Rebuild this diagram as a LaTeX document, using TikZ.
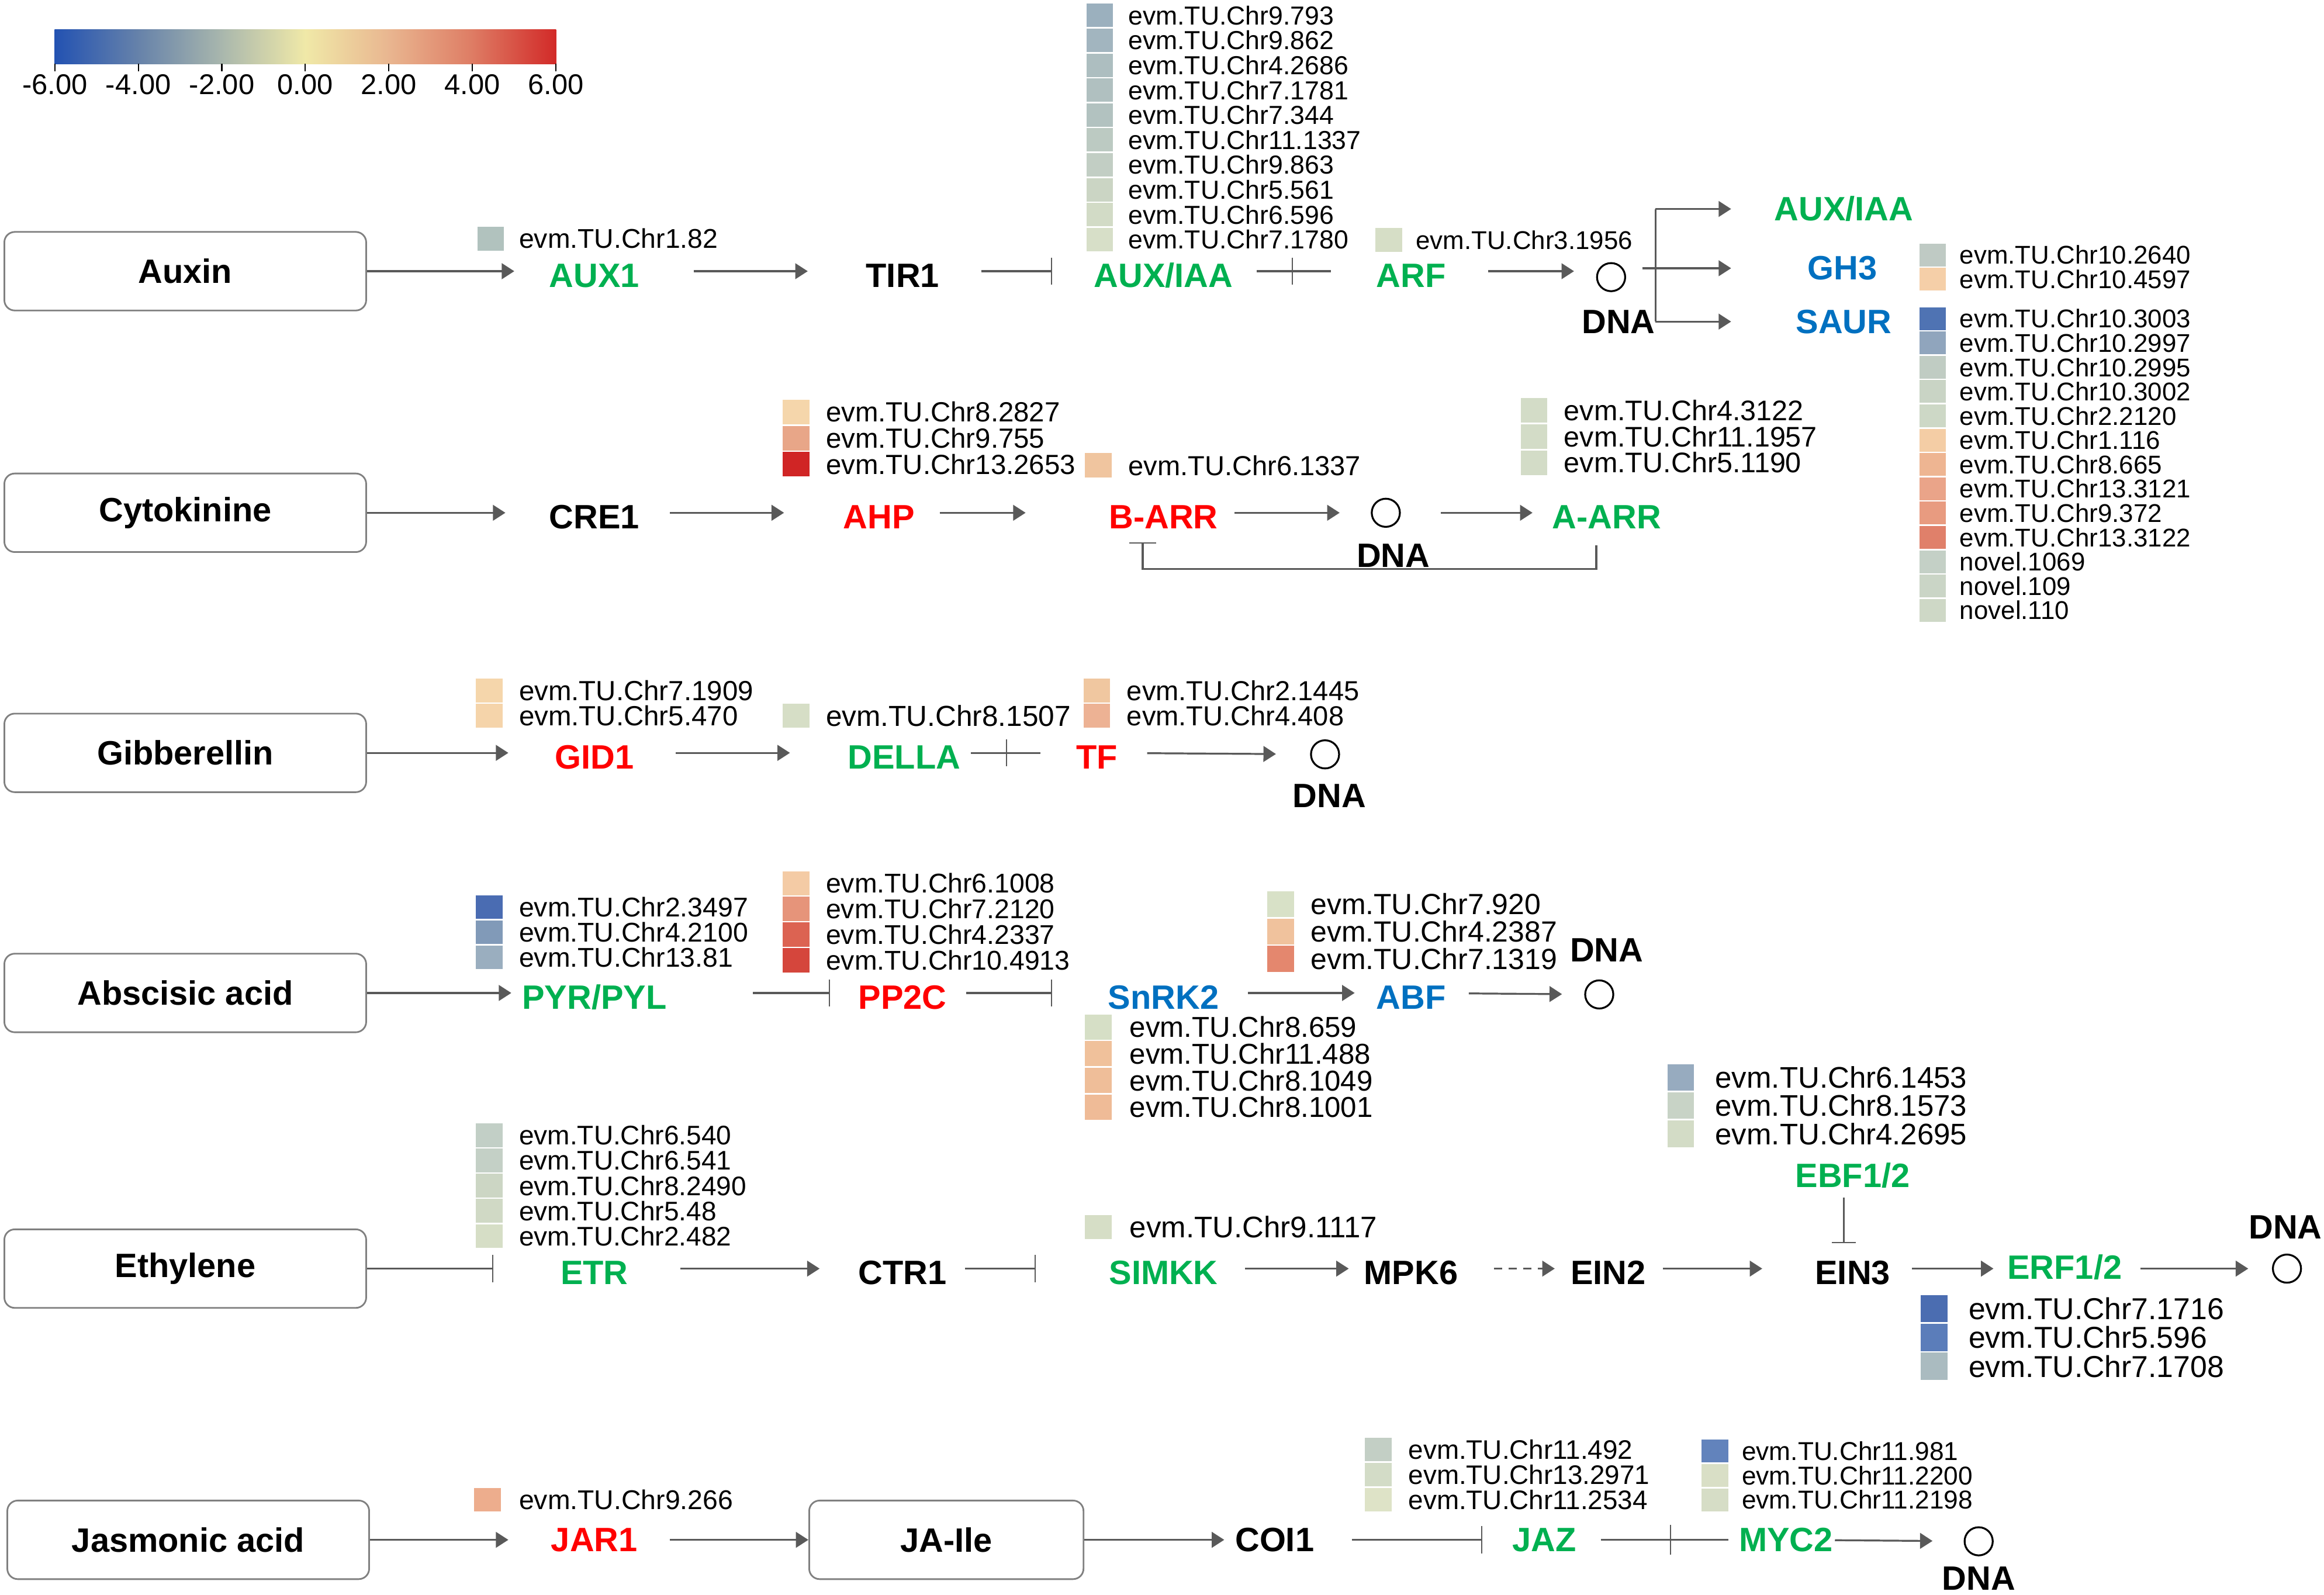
\documentclass[tikz,border=0pt]{standalone}
\usepackage{fontspec}
\setmainfont{Liberation Sans}
\usetikzlibrary{arrows.meta,calc}
\definecolor{cGreen}{HTML}{00B050}
\definecolor{cRed}{HTML}{FF0000}
\definecolor{cBlue}{HTML}{0070C0}
\definecolor{cLine}{HTML}{595959}
\definecolor{cBox}{HTML}{808080}
\definecolor{cb0}{HTML}{2352B2}
\definecolor{cb1}{HTML}{6682AA}
\definecolor{cb2}{HTML}{A9B7AD}
\definecolor{cb3}{HTML}{F0E9A8}
\definecolor{cb4}{HTML}{E9B690}
\definecolor{cb5}{HTML}{DE7C64}
\definecolor{cb6}{HTML}{D22A28}
% heat-map column: prefix, x of squares, x of texts, y of first centre, pitch, font size, list colour/text
\newcommand\hmcol[7]{%
  \foreach \hmC/\hmT [count=\i from 0] in {#7}{%
    \edef\hmdef{\noexpand\definecolor{hmtmp}{HTML}{\hmC}}\hmdef
    \fill[hmtmp] (#2, #4+\i*#5-#5/2+0.5) rectangle ++(18, #5-1);
    \node[gtext, font=\fontsize{#6}{#6}\selectfont] (#1\i) at (#3, #4+\i*#5) {\hmT};
  }%
}
\begin{document}
\begin{tikzpicture}[x=0.025cm, y=-0.025cm,
  gtext/.style={inner sep=0pt, anchor=west},
  lab/.style={font=\fontsize{16.2}{19}\selectfont\bfseries, inner sep=0pt},
  low/.style={text height=15.2pt, text depth=0pt},
  grn/.style={lab, text=cGreen},
  rd/.style={lab, text=cRed},
  blu/.style={lab, text=cBlue},
  blk/.style={lab, text=black},
  pbox/.style={draw=cBox, line width=0.8pt, rounded corners=5pt, minimum width=173.6pt, minimum height=37.7pt, font=\fontsize{16.2}{19}\selectfont\bfseries, inner sep=0pt},
  dna/.style={circle, draw=black, line width=0.9pt, minimum size=13.5pt, inner sep=0pt},
  conn/.style={draw=cLine, line width=0.9pt},
  arr/.style={conn, -{Triangle[length=6pt,width=7.5pt]}},
  darr/.style={arr, dash pattern=on 4pt off 3pt},
  inh/.style={conn, -{Bar[width=13pt,line width=0.6pt]}},
  tickm/.style={draw=cLine, line width=0.6pt},
  sh/.style 2 args={shorten <=#1*0.7113pt, shorten >=#2*0.7113pt},
]
\useasboundingbox (0,0) rectangle (1568,1076);

% ---------- colour bar ----------
\foreach \k [evaluate=\k as \kn using int(\k+1)] in {0,...,5}{
  \shade[left color=cb\k, right color=cb\kn] (37+\k*56.333-0.2,20) rectangle (37+\k*56.333+56.533,43);
}
\foreach \k/\lbl in {0/-6.00,1/-4.00,2/-2.00,3/0.00,4/2.00,5/4.00,6/6.00}{
  \draw[black, line width=0.6pt] (37+\k*56.333,43) -- (37+\k*56.333,48);
  \node[font=\fontsize{13.7}{16}\selectfont, inner sep=0pt] (cbl\k) at (37+\k*56.333,57) {\lbl};
}

% ---------- pathway boxes ----------
\node[pbox] (auxin) at (125,183) {Auxin};
\node[pbox] (cyto) at (125,346) {Cytokinine};
\node[pbox] (gib) at (125,508) {Gibberellin};
\node[pbox] (aba) at (125,670) {Abscisic acid};
\node[pbox] (eth) at (125,856) {Ethylene};
\node[pbox] (ja) at (127,1039) {Jasmonic acid};
\node[pbox, minimum width=131.6pt] (jaile) at (638.5,1039) {JA-Ile};

% ---------- Auxin ----------
\node[grn, low] (aux1) at (401,183) {AUX1};
\node[blk, low] (tir1) at (609,183) {TIR1};
\node[grn, low] (iaa1) at (785,183) {AUX/IAA};
\node[grn, low] (arf) at (952,183) {ARF};
\node[dna] (dna1) at (1087,187) {};
\node[blk] (dnal1) at (1092,217) {DNA};
\node[grn] (iaa2) at (1244,141) {AUX/IAA};
\node[blu] (gh3) at (1243,181) {GH3};
\node[blu] (saur) at (1244,217) {SAUR};
\draw[arr, sh={0}{54}] (auxin) -- (aux1.center);
\draw[arr, sh={67}{64}] (aux1.center) -- (tir1.center);
\draw[inh, sh={53}{75}] (tir1.center) -- (iaa1.center);
\draw[conn, sh={63}{54}] (iaa1.center) -- (arf.center);
\draw[tickm] ($(iaa1.center)+(87,-9)$) -- ($(iaa1.center)+(87,9)$);
\draw[arr, sh={52}{25}] (arf.center) -- (arf.center -| dna1.center);
\draw[arr, sh={21}{75}] (dna1.center |- gh3.center) -- (gh3.center);
\coordinate (brT) at (1117,141);
\coordinate (brB) at (1117,217);
\draw[conn] (brT) -- (brB);
\draw[arr, sh={0}{76}] (brT) -- (iaa2.center);
\draw[arr, sh={0}{76}] (brB) -- (saur.center);
\hmcol{haux}{322}{350}{161}{17}{13.0}{B1C2BE/evm.TU.Chr1.82}
\hmcol{hiaa}{733}{761}{10.4}{16.8}{12.5}{9BB0BE/evm.TU.Chr9.793, A2B5BF/evm.TU.Chr9.862, ADBEC0/evm.TU.Chr4.2686, B0C0C0/evm.TU.Chr7.1781, B2C2C0/evm.TU.Chr7.344, BCCAC2/evm.TU.Chr11.1337, C2CEC4/evm.TU.Chr9.863, CBD5C4/evm.TU.Chr5.561, D2DBC6/evm.TU.Chr6.596, D7DFC8/evm.TU.Chr7.1780}
\hmcol{harf}{928}{955}{162}{17}{12.3}{D6DEC6/evm.TU.Chr3.1956}
\hmcol{hgh}{1295}{1322}{172}{16.3}{12.3}{BFCAC4/evm.TU.Chr10.2640, F5CFA8/evm.TU.Chr10.4597}
\hmcol{hsaur}{1295}{1322}{215}{16.4}{12.3}{4F73B3/evm.TU.Chr10.3003, 90A5BD/evm.TU.Chr10.2997, C0CCC3/evm.TU.Chr10.2995, C9D4C5/evm.TU.Chr10.3002, CDD8C6/evm.TU.Chr2.2120, F4CDA5/evm.TU.Chr1.116, EEB592/evm.TU.Chr8.665, EAA489/evm.TU.Chr13.3121, E89B80/evm.TU.Chr9.372, E0806A/evm.TU.Chr13.3122, C4D0C6/novel.1069, CAD5C6/novel.109, CED8C6/novel.110}

% ---------- Cytokinine ----------
\node[blk, low] (cre1) at (401,346) {CRE1};
\node[rd, low] (ahp) at (593,346) {AHP};
\node[rd, low] (barr) at (785,346) {B-ARR};
\node[dna] (dna2) at (935,346) {};
\node[blk] (dnal2) at (940,375) {DNA};
\node[grn, low] (aarr) at (1084,346) {A-ARR};
\draw[arr, sh={0}{60}] (cyto) -- (cre1.center);
\draw[arr, sh={51}{64}] (cre1.center) -- (ahp.center);
\draw[arr, sh={41}{93}] (ahp.center) -- (barr.center);
\draw[arr, sh={48}{21}] (barr.center) -- (dna2);
\draw[arr, sh={27}{50}] (dna2) -- (aarr.center);
\draw[conn, -{Bar[width=12.8pt,line width=0.6pt]}] ($(aarr.center)+(-7,22)$) -- ($(aarr.center)+(-7,38)$) -| ($(barr.center)+(-14,20)$);
\hmcol{hahp}{528}{557}{278}{17.6}{13.3}{F5D6AB/evm.TU.Chr8.2827, E8A688/evm.TU.Chr9.755, D02525/evm.TU.Chr13.2653}
\hmcol{hbarr}{732}{761}{314}{17.6}{13.2}{F0C59F/evm.TU.Chr6.1337}
\hmcol{haarr}{1026}{1055}{277}{17.6}{13.6}{D3DCC7/evm.TU.Chr4.3122, D3DCC7/evm.TU.Chr11.1957, D3DCC7/evm.TU.Chr5.1190}

% ---------- Gibberellin ----------
\node[rd, low] (gid1) at (401,508) {GID1};
\node[grn, low] (della) at (610,508) {DELLA};
\node[rd, low] (tf) at (740,508) {TF};
\node[dna] (dna3) at (894,509) {};
\node[blk] (dnal3) at (897,537) {DNA};
\draw[arr, sh={0}{58}] (gib) -- (gid1.center);
\draw[arr, sh={55}{77}] (gid1.center) -- (della.center);
\draw[conn, sh={45}{38}] (della.center) -- (tf.center);
\draw[tickm] ($(della.center)+(69,-9)$) -- ($(della.center)+(69,9)$);
\draw[arr, sh={34}{23}] (tf.center) -- (dna3);
\hmcol{hgid}{321}{350}{466}{17}{13.3}{F5D6AB/evm.TU.Chr7.1909, F5D4AA/evm.TU.Chr5.470}
\hmcol{hdella}{528}{557}{483}{17}{13.9}{D6DEC6/evm.TU.Chr8.1507}
\hmcol{htf}{731}{760}{466}{17}{13.2}{F0C7A0/evm.TU.Chr2.1445, EDB294/evm.TU.Chr4.408}

% ---------- Abscisic acid ----------
\node[grn, low] (pyr) at (401,670) {PYR/PYL};
\node[rd, low] (pp2c) at (609,670) {PP2C};
\node[blu, low] (snrk) at (785,670) {SnRK2};
\node[blu, low] (abf) at (952,670) {ABF};
\node[dna] (dna4) at (1079,671) {};
\node[blk] (dnal4) at (1084,641) {DNA};
\draw[arr, sh={0}{56}] (aba) -- (pyr.center);
\draw[inh, sh={107}{49}] (pyr.center) -- (pp2c.center);
\draw[inh, sh={43}{75}] (pp2c.center) -- (snrk.center);
\draw[arr, sh={57}{38}] (snrk.center) -- (abf.center);
\draw[arr, sh={39}{15}] (abf.center) -- (dna4);
\hmcol{hpyr}{321}{350}{612}{17}{13.0}{4A6CB2/evm.TU.Chr2.3497, 819AB8/evm.TU.Chr4.2100, 9AAEBF/evm.TU.Chr13.81}
\hmcol{hpp}{528}{557}{596}{17.3}{13.0}{F4CBA5/evm.TU.Chr6.1008, E6947A/evm.TU.Chr7.2120, DC6352/evm.TU.Chr4.2337, D5463C/evm.TU.Chr10.4913}
\hmcol{hsnrk}{732}{762}{693}{18}{13.8}{D6DFC6/evm.TU.Chr8.659, F0C19B/evm.TU.Chr11.488, EFBE99/evm.TU.Chr8.1049, EFBB97/evm.TU.Chr8.1001}
\hmcol{habf}{855}{884}{610}{18.5}{14.0}{D8E1C7/evm.TU.Chr7.920, F0C29D/evm.TU.Chr4.2387, E4876E/evm.TU.Chr7.1319}

% ---------- Ethylene ----------
\node[grn, low] (etr) at (401,856) {ETR};
\node[blk, low] (ctr1) at (609,856) {CTR1};
\node[grn, low] (simkk) at (785,856) {SIMKK};
\node[blk, low] (mpk6) at (952,856) {MPK6};
\node[blk, low] (ein2) at (1085,856) {EIN2};
\node[blk, low] (ein3) at (1250,856) {EIN3};
\node[grn] (ebf) at (1250,793) {EBF1/2};
\node[grn] (erf) at (1393,855) {ERF1/2};
\node[dna] (dna5) at (1543,856) {};
\node[blk] (dnal5) at (1542,828) {DNA};
\draw[inh, sh={0}{68}] (eth) -- (etr.center);
\draw[arr, sh={58}{56}] (etr.center) -- (ctr1.center);
\draw[inh, sh={42}{86}] (ctr1.center) -- (simkk.center);
\draw[arr, sh={55}{42}] (simkk.center) -- (mpk6.center);
\draw[darr, sh={56}{36}] (mpk6.center) -- (ein2.center);
\draw[arr, sh={37}{61}] (ein2.center) -- (ein3.center);
\draw[conn, -{Bar[width=11.4pt,line width=0.6pt]}] ($(ebf.center)+(-6,15)$) -- ($(ein3.center)+(-6,-17)$);
\draw[arr, sh={40}{48}] (ein3.center) -- (ein3.center -| erf.center);
\draw[arr, sh={51}{16}] (erf.center |- dna5.center) -- (dna5);
\hmcol{hetr}{321}{350}{766}{17}{12.9}{C2CFC6/evm.TU.Chr6.540, C4D0C6/evm.TU.Chr6.541, CCD6C4/evm.TU.Chr8.2490, D0D9C5/evm.TU.Chr5.48, D6DEC6/evm.TU.Chr2.482}
\hmcol{hsim}{732}{762}{828}{17}{14.3}{D6DEC6/evm.TU.Chr9.1117}
\hmcol{hebf}{1125}{1157}{727}{19}{14.3}{97ABBF/evm.TU.Chr6.1453, C8D3C6/evm.TU.Chr8.1573, D3DCC6/evm.TU.Chr4.2695}
\hmcol{herf}{1296}{1328}{883}{19.5}{14.5}{4B6DB1/evm.TU.Chr7.1716, 5B7DBA/evm.TU.Chr5.596, AABBC0/evm.TU.Chr7.1708}

% ---------- Jasmonic acid ----------
\node[rd] (jar1) at (401,1039) {JAR1};
\node[blk] (coi1) at (860,1039) {COI1};
\node[grn] (jaz) at (1042,1039) {JAZ};
\node[grn] (myc2) at (1205,1039) {MYC2};
\node[dna] (dna6) at (1335,1040) {};
\node[blk] (dnal6) at (1335,1065) {DNA};
\draw[arr, sh={0}{58}] (ja) -- (jar1.center);
\draw[arr, sh={51}{0}] (jar1.center) -- (jaile);
\draw[arr, sh={0}{34}] (jaile) -- (coi1.center);
\draw[inh, sh={52}{42}] (coi1.center) -- (jaz.center);
\draw[conn, sh={38}{39}] (jaz.center) -- (myc2.center);
\draw[tickm] ($(jaz.center)+(85,-10)$) -- ($(jaz.center)+(85,10)$);
\draw[arr, sh={33}{21}] (myc2.center) -- (dna6);
\hmcol{hjar}{320}{350}{1012}{17}{13.0}{EDAD8D/evm.TU.Chr9.266}
\hmcol{hjaz}{921}{950}{978}{17}{12.85}{C3CFC5/evm.TU.Chr11.492, D3DCC7/evm.TU.Chr13.2971, DEE3C7/evm.TU.Chr11.2534}
\hmcol{hmyc}{1148}{1175}{979}{16.5}{12.4}{6283BC/evm.TU.Chr11.981, D9DFC6/evm.TU.Chr11.2200, D6DDC6/evm.TU.Chr11.2198}
\end{tikzpicture}
\end{document}
